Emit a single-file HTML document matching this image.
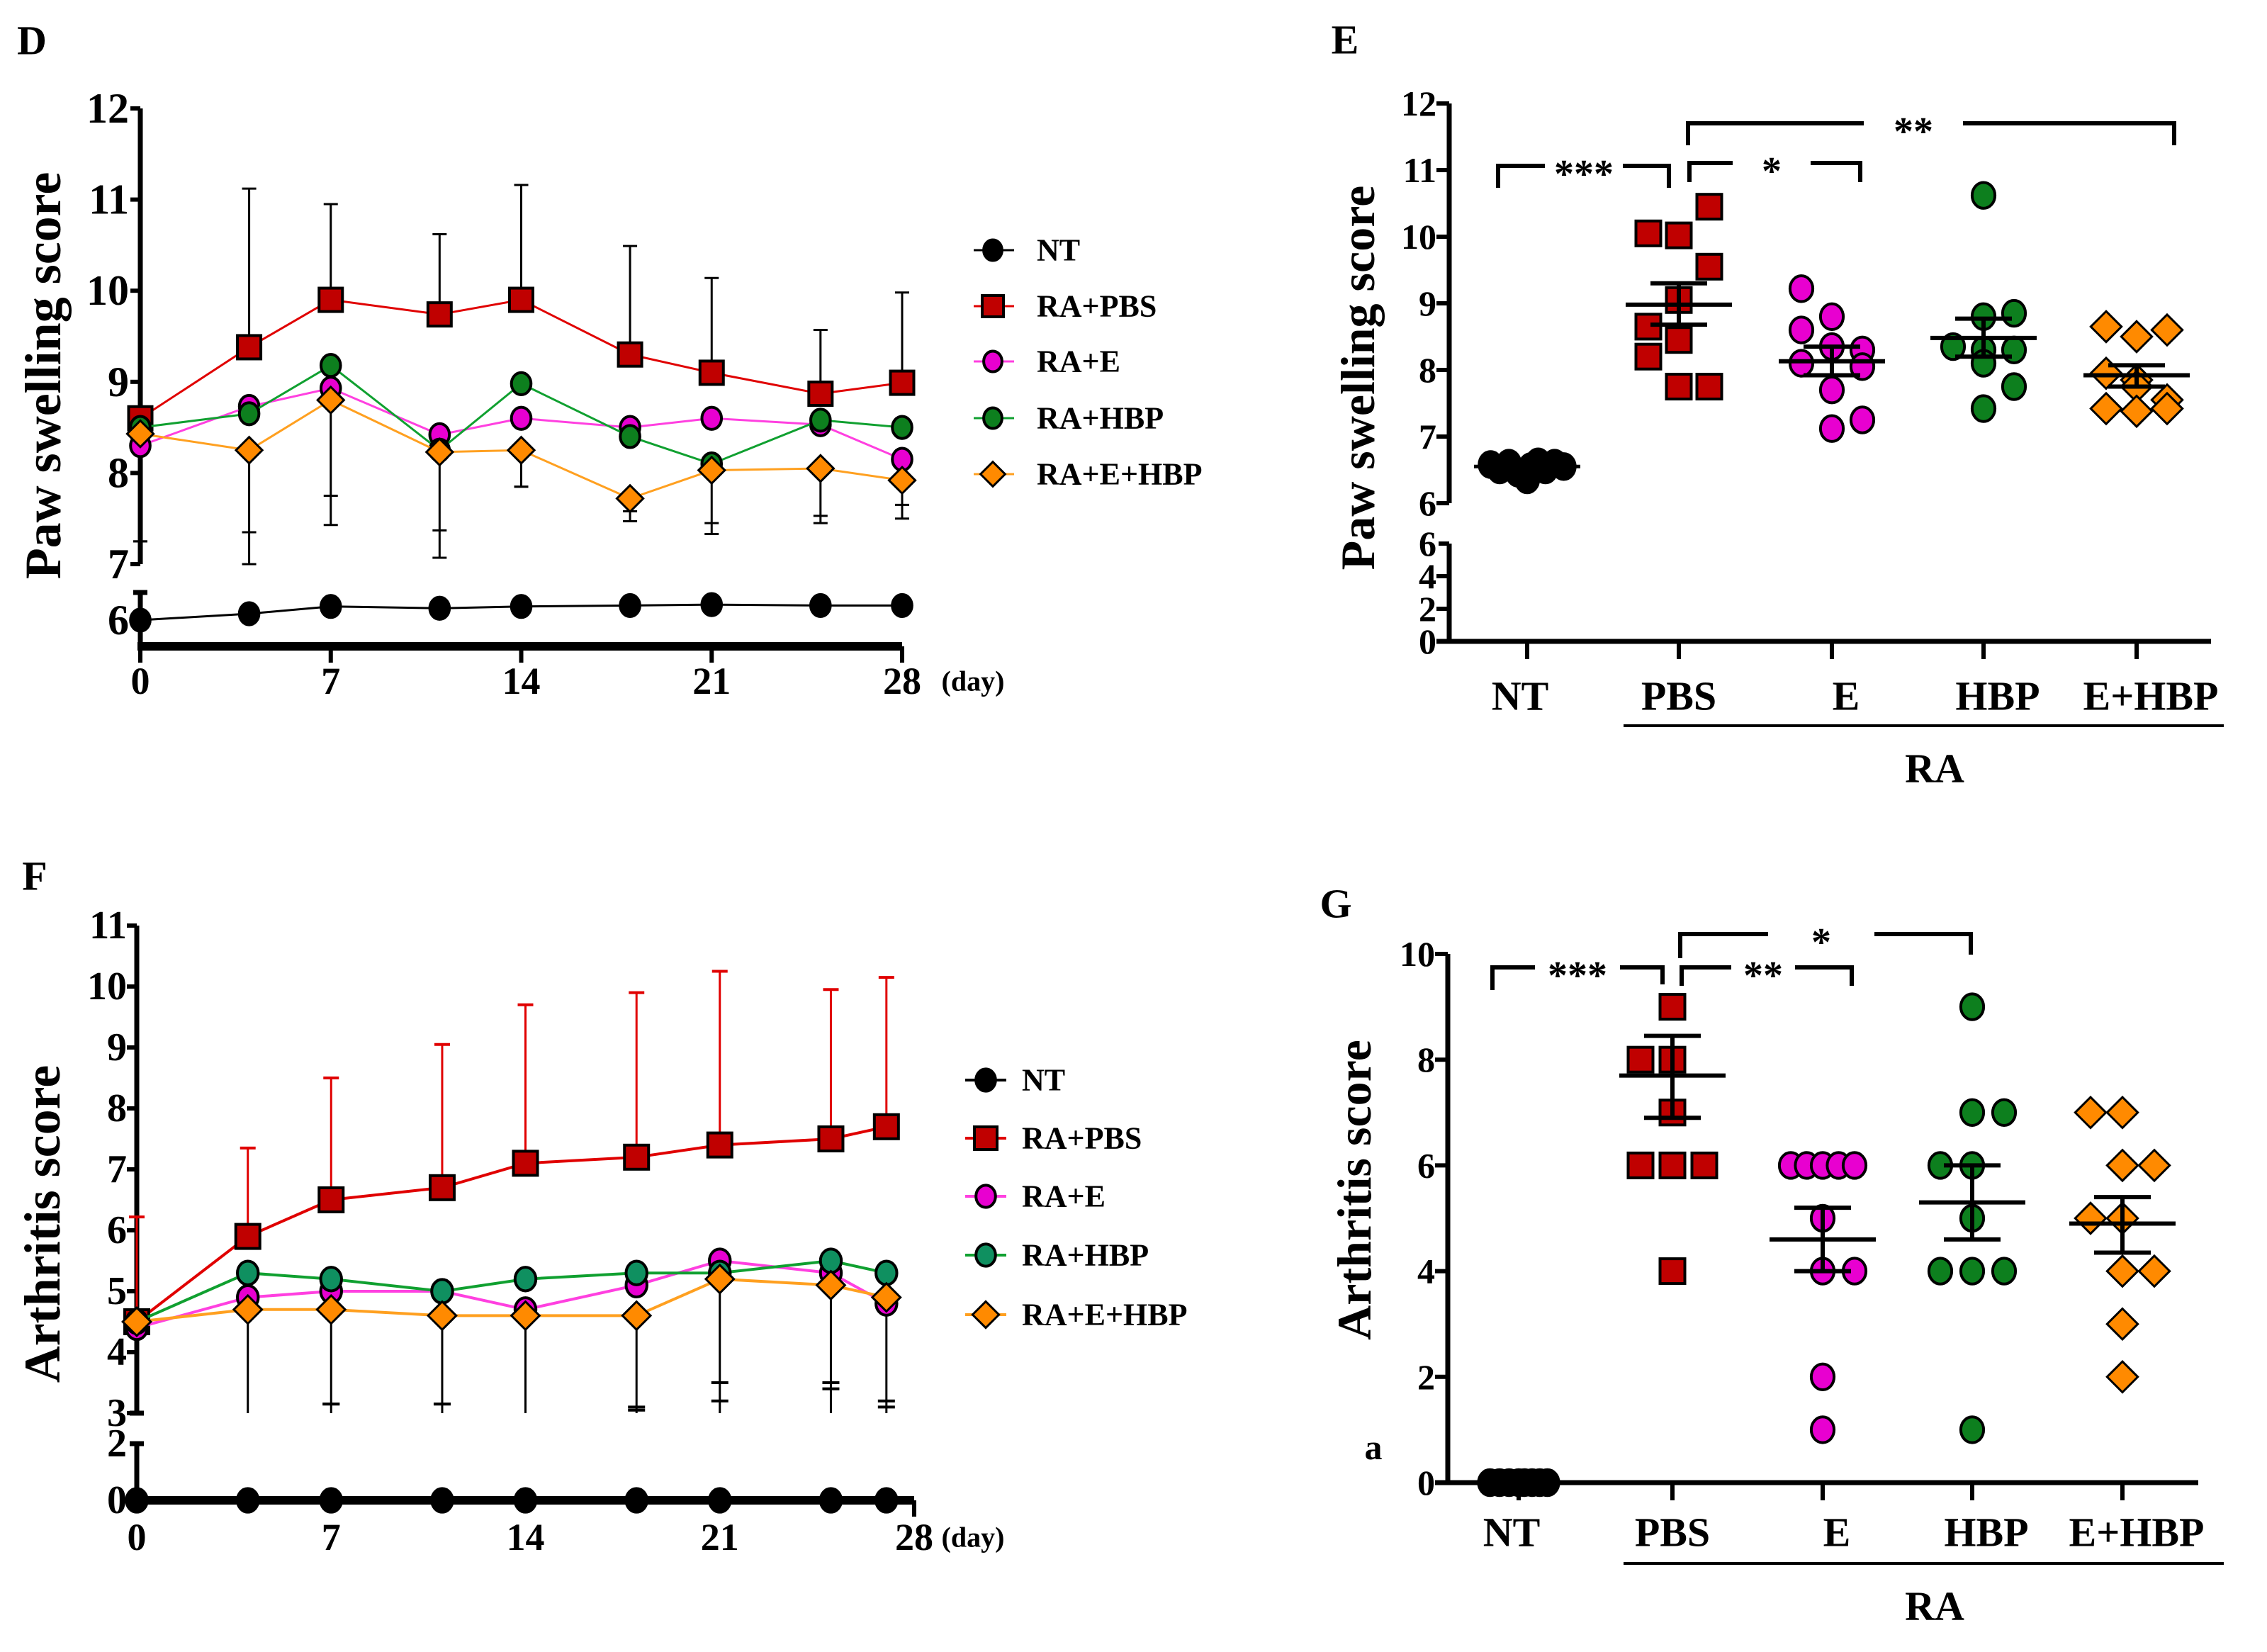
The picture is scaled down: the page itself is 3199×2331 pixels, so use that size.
<!DOCTYPE html>
<html><head><meta charset="utf-8">
<style>
html,body{margin:0;padding:0;background:#fff;}
svg{display:block;}
text{font-family:"Liberation Serif","DejaVu Serif","Times New Roman",serif;font-weight:bold;fill:#000;}
</style></head>
<body>
<svg id="fig" width="3199" height="2331" viewBox="0 0 3199 2331" xmlns="http://www.w3.org/2000/svg" font-family="Liberation Serif, DejaVu Serif, serif">
</svg>
<script>
// ---------- Panel D data ----------
const daysD = [0,4,7,11,14,18,21,25,28];
const dNT   = [6.0,6.07,6.15,6.13,6.15,6.16,6.17,6.16,6.16];
const dPBS  = [8.6,9.38,9.9,9.74,9.9,9.3,9.1,8.87,8.99];
const dPBSErrHi = [8.6,11.12,10.95,10.62,11.16,10.49,10.14,9.57,9.98];
const dE    = [8.3,8.73,8.93,8.42,8.6,8.5,8.6,8.53,8.15];
const dHBP  = [8.5,8.65,9.18,8.25,8.98,8.4,8.1,8.58,8.5];
const dEHBP = [8.43,8.25,8.8,8.23,8.25,7.72,8.03,8.05,7.92];
const dErrLoA = [7.25,7.0,7.43,7.07,7.85,7.47,7.33,7.45,7.5];
const dErrLoB = [7.25,7.35,7.75,7.37,7.85,7.58,7.45,7.53,7.65];
const dYTicks = [7,8,9,10,11,12];
const dXTicks = [0,7,14,21,28];
// ---------- Panel F data ----------
const daysF = [0,4,7,11,14,18,21,25,27];
const fNT   = [0,0,0,0,0,0,0,0,0];
const fPBS  = [4.5,5.9,6.5,6.7,7.1,7.2,7.4,7.5,7.7];
const fPBSErrHi = [6.22,7.35,8.5,9.05,9.7,9.9,10.25,9.95,10.15];
const fE    = [4.4,4.9,5.0,5.0,4.7,5.1,5.5,5.3,4.8];
const fHBP  = [4.5,5.3,5.2,5.0,5.2,5.3,5.3,5.5,5.3];
const fEHBP = [4.5,4.7,4.7,4.6,4.6,4.6,5.2,5.1,4.9];
const fErrCapA = [3.0,3.0,3.15,3.15,3.0,3.05,3.2,3.4,3.1];
const fErrCapB = [3.0,3.0,3.15,3.15,3.0,3.1,3.5,3.5,3.2];
const fYTicks = [3,4,5,6,7,8,9,10,11];
// ---------- Panel E data ----------
const groups = ["NT","PBS","E","HBP","E+HBP"];
const eNT = [6.58,6.5,6.6,6.45,6.35,6.55,6.62,6.5,6.6,6.55];
const eNTj = [-2,-1.5,-1,-0.5,0,0.2,0.6,1,1.5,2];
const ePBS = [10.05,10.02,10.45,9.55,9.05,8.65,8.45,8.2,7.75,7.75];
const ePBSj = [-1,0,1,1,0,-1,0,-1,0,1];
const eE = [9.22,8.8,8.6,8.3,8.35,8.1,8.05,7.7,7.12,7.25];
const eEj = [-1,0,-1,1,0,-1,1,0,0,1];
const eHBP = [10.62,8.85,8.8,8.35,8.3,8.3,8.1,7.75,7.42];
const eHBPj = [0,1,0,-1,1,0,0,1,0];
const eEHBP = [8.65,8.5,8.6,7.95,7.85,7.75,7.55,7.42,7.38,7.42];
const eEHBPj = [-1,0,1,-1,0,0,1,-1,0,1];
const eMean = [6.55,8.98,8.13,8.48,7.92];
const eSemHi = [6.55,9.3,8.35,8.77,8.07];
const eSemLo = [6.55,8.68,7.92,8.2,7.75];
const eYTicks = [6,7,8,9,10,11,12];
const eYTicksLow = [0,2,4,6];
// ---------- Panel G data ----------
const gNT = [0,0,0,0,0,0,0,0];
const gNTj = [-1.5,-1,-0.5,0,0.3,0.7,1.1,1.5];
const gPBS = [9,8,8,7,6,6,6,4];
const gPBSj = [0,-1,0,0,-1,0,1,0];
const gE = [6,6,6,6,6,5,4,4,2,1];
const gEj = [-1,-0.5,0,0.5,1,0,0,1,0,0];
const gHBP = [9,7,7,6,6,5,4,4,4,1];
const gHBPj = [0,0,1,-1,0,0,-1,0,1,0];
const gEHBP = [7,7,6,6,5,5,4,4,3,2];
const gEHBPj = [-1,0,0,1,-1,0,0,1,0,0];
const gMean = [0,7.7,4.6,5.3,4.9];
const gSemHi = [0,8.45,5.2,6.0,5.4];
const gSemLo = [0,6.9,4.0,4.6,4.35];
const gYTicks = [0,2,4,6,8,10];

const NS="http://www.w3.org/2000/svg";
const svg=document.getElementById('fig');
function el(tag,attrs,parent){const e=document.createElementNS(NS,tag);for(const k in attrs)e.setAttribute(k,attrs[k]);(parent||svg).appendChild(e);return e;}
function line(x1,y1,x2,y2,w,c,p){return el('line',{x1,y1,x2,y2,stroke:c||'#000','stroke-width':w},p);}
function txt(s,x,y,size,anchor,p){const t=el('text',{x,y,'font-size':size,'text-anchor':anchor||'middle','dominant-baseline':'central','font-family':'Liberation Serif, DejaVu Serif, serif','font-weight':'bold'},p);t.textContent=s;return t;}
function marker(type,cx,cy,s,fill,p){
  if(type==='sq') return el('rect',{x:cx-s/2,y:cy-s/2,width:s,height:s,fill,stroke:'#000','stroke-width':4},p);
  if(type==='di') return el('polygon',{points:`${cx},${cy-s*0.62} ${cx+s*0.62},${cy} ${cx},${cy+s*0.62} ${cx-s*0.62},${cy}`,fill,stroke:'#000','stroke-width':3},p);
  return el('ellipse',{cx,cy,rx:s*0.46,ry:s*0.52,fill,stroke:'#000','stroke-width':4},p);
}
const RED='#c00000',MAG='#e800d0',GRN='#0d7f1e',ORG='#ff8a00',TEAL='#0f9060';

// =============== Panel D ===============
(function(){
  const g=el('g',{});  
  const X0=198,X1=1273,yHi=v=>796-(v-7)*128.6,yLo=v=>875-(v-6)*128.6;
  const x=d=>X0+(d/28)*(X1-X0);
  const y=v=>v>=6.6?yHi(v):yLo(v);
  const pl=txt('D',24,57,58,'start',g);  
  line(X0,yHi(12),X0,yHi(7),7,'#000',g);
  line(X0,836,X0,912,7,'#000',g);
  line(X0-10,836,X0+10,836,7,'#000',g);
  line(X0-4,912,X1,912,12,'#000',g);
  dYTicks.forEach(v=>{line(X0-14,yHi(v),X0,yHi(v),6,'#000',g);const t=txt(v,X0-16,yHi(v),60,'end',g);});
  txt('6',X0-16,yLo(6),60,'end',g);
  dXTicks.forEach(d=>{line(x(d),912,x(d),935,6,'#000',g);const t=txt(d,x(d),961,54,'middle',g);});
  const dy=txt('(day)',1373,961,40,'middle',g);
  const yt=txt('Paw  swelling  score',61,530,72,'middle',g);yt.setAttribute('transform','rotate(-90 61 530)');
  daysD.forEach((d,i)=>{
    line(x(d),y(dPBS[i]),x(d),y(dPBSErrHi[i]),3,'#000',g);line(x(d)-10,y(dPBSErrHi[i]),x(d)+10,y(dPBSErrHi[i]),3,'#000',g);
    const top=Math.min(dE[i],dHBP[i],dEHBP[i]);
    line(x(d),y(top),x(d),y(dErrLoA[i]),3,'#000',g);
    line(x(d)-10,y(dErrLoA[i]),x(d)+10,y(dErrLoA[i]),3,'#000',g);
    line(x(d)-10,y(dErrLoB[i]),x(d)+10,y(dErrLoB[i]),3,'#000',g);
  });
  line(x(0),y(6.3),x(0),y(6.0),3,'#000',g);line(x(0)-10,y(6.3),x(0)+10,y(6.3),5,'#000',g);
  const series=[[dNT,'#000','#000','ci','series-nt'],[dPBS,'#e00000',RED,'sq','series-ra-pbs'],[dE,'#ff40e0',MAG,'ci','series-ra-e'],[dHBP,'#10a030',GRN,'ci','series-ra-hbp'],[dEHBP,'#ffa020',ORG,'di','series-ra-e-hbp']];
  series.forEach(s=>{
    const sg=el('g',{},g);  
    el('polyline',{points:daysD.map((d,i)=>x(d)+','+y(s[0][i])).join(' '),fill:'none',stroke:s[1],'stroke-width':3},sg);
    daysD.forEach((d,i)=>marker(s[3],x(d),y(s[0][i]),s[3]==='sq'?33:30,s[2],sg));
  });
  const names=['NT','RA+PBS','RA+E','RA+HBP','RA+E+HBP'],ly=[353,432,510,590,669];
  series.forEach((s,i)=>{
    const lg=el('g',{},g);  
    line(1374,ly[i],1431,ly[i],3,s[1],lg); marker(s[3],1401,ly[i],s[3]==='sq'?30:28,s[2],lg); txt(names[i],1463,ly[i],44,'start',lg);
  });
})();

// =============== Panel F ===============
(function(){
  const g=el('g',{});  
  const X0=193,X1=1290,yHi=v=>1994-(v-3)*86,yLo=v=>2117-v*40;
  const x=d=>X0+(d/28)*(X1-X0);
  const y=v=>v>=2.5?yHi(v):yLo(v);
  const pl=txt('F',49,1236,58,'middle',g);  
  line(X0,yHi(11),X0,yHi(3),7,'#000',g);line(X0-10,yHi(3),X0+10,yHi(3),7,'#000',g);
  line(X0,2037,X0,2117,7,'#000',g);line(X0-10,2037,X0+10,2037,7,'#000',g);
  line(X0-4,2117,X1,2117,12,'#000',g);line(X1,2117,X1,2140,6,'#000',g);
  fYTicks.forEach(v=>{line(X0-14,yHi(v),X0,yHi(v),6,'#000',g);const t=txt(v,X0-14,yHi(v),56,'end',g);});
  txt('2',X0-14,2037,56,'end',g);txt('0',X0-14,2117,56,'end',g);
  [0,7,14,21,28].forEach(d=>{const t=txt(d,x(d),2169,54,'middle',g);});
  const dy=txt('(day)',1373,2169,40,'middle',g);
  const yt=txt('Arthritis  score',60,1727,72,'middle',g);yt.setAttribute('transform','rotate(-90 60 1727)');
  daysF.forEach((d,i)=>{
    line(x(d),y(fPBS[i]),x(d),y(fPBSErrHi[i]),3,'#e00000',g);line(x(d)-11,y(fPBSErrHi[i]),x(d)+11,y(fPBSErrHi[i]),4,'#e00000',g);
    const top=Math.min(fE[i],fHBP[i],fEHBP[i]);
    line(x(d),y(top),x(d),yHi(3),3,'#000',g);
    if(fErrCapA[i]>3){line(x(d)-12,y(fErrCapA[i]),x(d)+12,y(fErrCapA[i]),4,'#000',g);line(x(d)-12,y(fErrCapB[i]),x(d)+12,y(fErrCapB[i]),4,'#000',g);}
  });
  const series=[[fNT,'#000','#000','ci','series-nt'],[fPBS,'#e00000',RED,'sq','series-ra-pbs'],[fE,'#ff40e0',MAG,'ci','series-ra-e'],[fHBP,'#10a030',TEAL,'ci','series-ra-hbp'],[fEHBP,'#ffa020',ORG,'di','series-ra-e-hbp']];
  series.forEach(s=>{
    const sg=el('g',{},g);  
    el('polyline',{points:daysF.map((d,i)=>x(d)+','+y(s[0][i])).join(' '),fill:'none',stroke:s[1],'stroke-width':4},sg);
    daysF.forEach((d,i)=>marker(s[3],x(d),y(s[0][i]),s[3]==='sq'?34:32,s[2],sg));
  });
  const names=['NT','RA+PBS','RA+E','RA+HBP','RA+E+HBP'],ly=[1524,1606,1688,1771,1855];
  series.forEach((s,i)=>{
    const lg=el('g',{},g);  
    line(1362,ly[i],1420,ly[i],4,s[1],lg); marker(s[3],1391,ly[i],s[3]==='sq'?32:30,s[2],lg); txt(names[i],1442,ly[i],44,'start',lg);
  });
})();

// =============== scatter panels ===============
function scatter(opt){
  const g=el('g',{});  
  const pl=txt(opt.letter,opt.lx,opt.ly,58,'middle',g);  
  const X0=opt.x0,y=opt.y,cx=opt.cx;
  opt.axes(g);
  opt.yTicks.forEach(v=>{line(X0-18,y(v),X0,y(v),6,'#000',g);const t=txt(v,X0-18,y(v),50,'end',g);});
  groups.forEach((n,i)=>{line(cx[i],opt.axisY,cx[i],opt.axisY+25,6,'#000',g);const t=txt(n,cx[i]+(i===0?-10:0)+(i>1?20:0),opt.labY,58,'middle',g);});
  line(2291,opt.raY,3138,opt.raY,4,'#000',g);
  const ra=txt('RA',2730,opt.raTY,58,'middle',g);
  const yt=txt(opt.title,opt.tx,opt.ty,68,'middle',g);yt.setAttribute('transform',`rotate(-90 ${opt.tx} ${opt.ty})`);
  const fills=['#000',RED,MAG,GRN,ORG],types=['ci','sq','ci','ci','di'];
  opt.data.forEach((arr,i)=>{
    const sg=el('g',{},g);  
    arr[0].forEach((v,k)=>marker(types[i],cx[i]+arr[1][k]*opt.step*(i===0?0.6:1),y(v),opt.ms,fills[i],sg));
    if(i>0){
      line(cx[i]-75,y(opt.mean[i]),cx[i]+75,y(opt.mean[i]),6,'#000',sg);
      line(cx[i],y(opt.semHi[i]),cx[i],y(opt.semLo[i]),6,'#000',sg);
      line(cx[i]-40,y(opt.semHi[i]),cx[i]+40,y(opt.semHi[i]),6,'#000',sg);
      line(cx[i]-40,y(opt.semLo[i]),cx[i]+40,y(opt.semLo[i]),6,'#000',sg);
    } else line(cx[i]-75,y(opt.mean[i]),cx[i]+75,y(opt.mean[i]),5,'#000',sg);
  });
  opt.brackets.forEach(b=>{
    const bg=el('g',{},g);  
    const [x1,x2,yb,l1,l2,lab,tx,gap]=b;
    el('polyline',{points:`${x1},${l1} ${x1},${yb} ${tx-gap},${yb}`,fill:'none',stroke:'#000','stroke-width':6},bg);
    el('polyline',{points:`${tx+gap},${yb} ${x2},${yb} ${x2},${l2}`,fill:'none',stroke:'#000','stroke-width':6},bg);
    txt(lab,tx,yb+12,56,'middle',bg);
  });
}
const yE=v=>v>=5.5?710-(v-6)*94:905-v*23;
scatter({name:'panel-e-chart',letter:'E',lx:1898,ly:56,x0:2045,y:yE,cx:[2155,2369,2585,2799,3015],axisY:905,labY:982,raY:1024,raTY:1084,
  title:'Paw  swelling  score',tx:1916,ty:533,yTicks:eYTicks.concat(eYTicksLow.slice(0,3)),step:43,ms:35,
  data:[[eNT,eNTj],[ePBS,ePBSj],[eE,eEj],[eHBP,eHBPj],[eEHBP,eEHBPj]],mean:eMean,semHi:eSemHi,semLo:eSemLo,
  axes:g=>{line(2045,yE(12),2045,yE(6),7,'#000',g);line(2045,767,2045,905,7,'#000',g);line(2030,767,2045,767,6,'#000',g);line(2027,905,3120,905,7,'#000',g);txt('6',2027,767,50,'end',g);},
  brackets:[[2114,2355,234,265,265,'***',2235,55],[2384,2625,230,257,257,'*',2500,55],[2382,3068,174,205,205,'**',2700,70]]});
const yG=v=>2092-v*74.6;
scatter({name:'panel-g-chart',letter:'G',lx:1885,ly:1275,x0:2043,y:yG,cx:[2143,2360,2572,2783,2995],axisY:2092,labY:2162,raY:2206,raTY:2266,
  title:'Arthritis  score',tx:1911,ty:1679,yTicks:gYTicks,step:45,ms:35,
  data:[[gNT,gNTj],[gPBS,gPBSj],[gE,gEj],[gHBP,gHBPj],[gEHBP,gEHBPj]],mean:gMean,semHi:gSemHi,semLo:gSemLo,
  axes:g=>{line(2043,yG(10),2043,2092,7,'#000',g);line(2025,2092,3102,2092,7,'#000',g);},
  brackets:[[2106,2346,1365,1397,1389,'***',2226,60],[2373,2613,1365,1391,1391,'**',2488,45],[2371,2781,1318,1352,1347,'*',2570,75]]});
const a=txt('a',1938,2042,50,'middle');


</script>
</body></html>
